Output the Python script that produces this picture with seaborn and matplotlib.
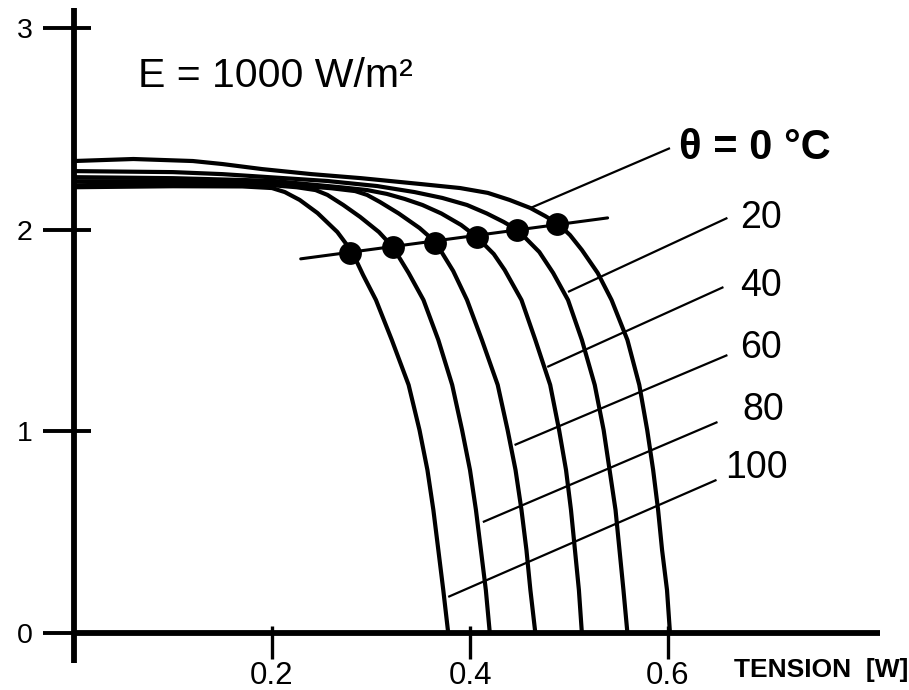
import matplotlib
matplotlib.use("Agg")
import matplotlib.pyplot as plt
import seaborn as sns
import pandas as pd

# ---------------- data ----------------
temps = [0, 20, 40, 60, 80, 100]

v_0 = [0.000, 0.060, 0.120, 0.150, 0.190, 0.240, 0.290, 0.350, 0.390, 0.418, 0.440, 0.461, 0.476,
       0.489, 0.501, 0.513, 0.529, 0.543, 0.559, 0.571, 0.579, 0.585, 0.590, 0.594, 0.599, 0.602]
i_0 = [2.340, 2.350, 2.340, 2.325, 2.300, 2.275, 2.255, 2.226, 2.206, 2.182, 2.147, 2.107, 2.067,
       2.028, 1.973, 1.899, 1.785, 1.651, 1.453, 1.230, 1.006, 0.808, 0.610, 0.412, 0.213, 0.000]

v_20 = [0.000, 0.100, 0.150, 0.256, 0.306, 0.344, 0.372, 0.397, 0.417, 0.434, 0.448, 0.470,
        0.484, 0.499, 0.513, 0.526, 0.535, 0.541, 0.547, 0.551, 0.555, 0.559]
i_20 = [2.290, 2.285, 2.275, 2.241, 2.216, 2.186, 2.157, 2.122, 2.080, 2.038, 1.998, 1.889,
        1.785, 1.651, 1.453, 1.230, 1.006, 0.808, 0.610, 0.412, 0.213, 0.000]

v_40 = [0.000, 0.100, 0.200, 0.271, 0.296, 0.316, 0.334, 0.352, 0.371, 0.391, 0.407, 0.424,
        0.435, 0.452, 0.466, 0.481, 0.490, 0.497, 0.502, 0.506, 0.510, 0.513]
i_40 = [2.260, 2.255, 2.242, 2.209, 2.196, 2.177, 2.152, 2.122, 2.080, 2.023, 1.963, 1.879,
        1.800, 1.651, 1.453, 1.230, 1.006, 0.808, 0.610, 0.412, 0.213, 0.000]

v_60 = [0.000, 0.100, 0.200, 0.260, 0.284, 0.296, 0.309, 0.328, 0.349, 0.365, 0.383, 0.397,
        0.412, 0.428, 0.438, 0.446, 0.452, 0.457, 0.461, 0.466]
i_60 = [2.240, 2.240, 2.228, 2.205, 2.191, 2.172, 2.137, 2.080, 2.008, 1.939, 1.795, 1.651,
        1.453, 1.230, 1.006, 0.808, 0.610, 0.412, 0.213, 0.000]

v_80 = [0.000, 0.100, 0.200, 0.225, 0.244, 0.256, 0.272, 0.289, 0.308, 0.322, 0.338, 0.353,
        0.368, 0.382, 0.392, 0.400, 0.406, 0.411, 0.416, 0.420]
i_80 = [2.220, 2.225, 2.220, 2.210, 2.196, 2.172, 2.122, 2.063, 1.988, 1.914, 1.785, 1.651,
        1.453, 1.230, 1.006, 0.808, 0.610, 0.412, 0.213, 0.000]

v_100 = [0.000, 0.100, 0.170, 0.200, 0.213, 0.228, 0.246, 0.266, 0.281, 0.292, 0.305, 0.321,
         0.338, 0.349, 0.357, 0.363, 0.368, 0.373, 0.378]
i_100 = [2.210, 2.215, 2.214, 2.206, 2.186, 2.147, 2.082, 1.988, 1.889, 1.775, 1.651, 1.453,
         1.230, 1.006, 0.808, 0.610, 0.412, 0.213, 0.000]

# maximum power points
mpp_v = [0.488, 0.447, 0.407, 0.365, 0.322, 0.279]
mpp_i = [2.027, 1.998, 1.964, 1.934, 1.914, 1.884]

# straight line through the MPPs
mppline_v = [0.229, 0.539]
mppline_i = [1.855, 2.058]

# curve labels and leader lines
label_texts = ["\u03b8 = 0 \u00b0C", "20", "40", "60", "80", "100"]
label_x = [0.611, 0.673, 0.673, 0.673, 0.675, 0.658]
label_y = [2.405, 2.058, 1.720, 1.413, 1.106, 0.818]
leader_x0 = [0.602, 0.660, 0.656, 0.660, 0.650, 0.649]
leader_y0 = [2.404, 2.058, 1.715, 1.378, 1.046, 0.759]
leader_x1 = [0.461, 0.499, 0.478, 0.445, 0.413, 0.378]
leader_y1 = [2.107, 1.691, 1.319, 0.932, 0.550, 0.179]

x_ticks = [0.2, 0.4, 0.6]
x_ticklabels = ["0.2", "0.4", "0.6"]
y_ticks = [0, 1, 2, 3]
y_ticklabels = ["0", "1", "2", "3"]

title_text = "E = 1000 W/m\u00b2"
xlabel_text = "TENSION  [W]"

# ---------------- figure ----------------
sns.set_style("white")
plt.rcParams["font.family"] = ["Liberation Sans", "DejaVu Sans"]

fig = plt.figure(figsize=(9.09, 6.90), dpi=100)
ax = fig.add_axes([0, 0, 1, 1])

curves_v = [v_0, v_20, v_40, v_60, v_80, v_100]
curves_i = [i_0, i_20, i_40, i_60, i_80, i_100]
frames = []
for t, vv, ii in zip(temps, curves_v, curves_i):
    frames.append(pd.DataFrame({"V": vv, "I": ii, "T": t}))
df = pd.concat(frames, ignore_index=True)

for t in temps:
    sub = df[df["T"] == t]
    sns.lineplot(data=sub, x="V", y="I", ax=ax, color="black", linewidth=3.0,
                 sort=False, estimator=None)

# MPP line and dots
sns.lineplot(x=mppline_v, y=mppline_i, ax=ax, color="black", linewidth=2.2,
             sort=False, estimator=None)
sns.scatterplot(x=mpp_v, y=mpp_i, ax=ax, color="black", s=270, edgecolor="black",
                linewidth=0, zorder=5)

# leader lines
for x0, y0, x1, y1 in zip(leader_x0, leader_y0, leader_x1, leader_y1):
    ax.plot([x0, x1], [y0, y1], color="black", linewidth=1.6, solid_capstyle="butt")

# labels
for k, (txt, lx, ly) in enumerate(zip(label_texts, label_x, label_y)):
    ax.text(lx, ly, txt, ha="left", va="center", fontsize=27 if k else 30,
            fontweight="bold" if k == 0 else "normal", color="black")

ax.text(0.0646, 2.762, title_text, ha="left", va="center", fontsize=29.5, color="black")
ax.text(0.6667, -0.183, xlabel_text, ha="left", va="center", fontsize=19,
        fontweight="bold", color="black")

# axes geometry: origin at pixel (74, 633)
ax.set_xlim(-74 / 990, (909 - 74) / 990)
ax.set_ylim((633 - 690) / 201.7, 633 / 201.7)
ax.set_xlabel("")
ax.set_ylabel("")

for s in ["top", "right"]:
    ax.spines[s].set_visible(False)
ax.spines["left"].set_position(("data", 0))
ax.spines["bottom"].set_position(("data", 0))
ax.spines["left"].set_bounds(-0.149, 3.10)
ax.spines["bottom"].set_bounds(0, 0.814)
for s in ["left", "bottom"]:
    ax.spines[s].set_linewidth(4.2)
    ax.spines[s].set_color("black")
    ax.spines[s].set_capstyle("butt")

ax.set_xticks(x_ticks)
ax.set_xticklabels(x_ticklabels)
ax.set_yticks(y_ticks)
ax.set_yticklabels(y_ticklabels)
ax.set_xticks(x_ticks, minor=True)
ax.set_yticks(y_ticks, minor=True)
ax.xaxis.remove_overlapping_locs = False
ax.yaxis.remove_overlapping_locs = False

ax.tick_params(which="both", bottom=True, left=True, top=False, right=False)
ax.tick_params(axis="x", which="major", direction="out", length=19, width=2.4,
               pad=1, labelsize=22.5, color="black", labelcolor="black")
ax.tick_params(axis="x", which="minor", direction="in", length=5, width=2.4, color="black")
ax.tick_params(axis="y", which="major", direction="out", length=22, width=2.8,
               pad=8, labelsize=20.5, color="black", labelcolor="black")
ax.tick_params(axis="y", which="minor", direction="in", length=12, width=2.8, color="black")

fig.savefig("out.png", dpi=100)
